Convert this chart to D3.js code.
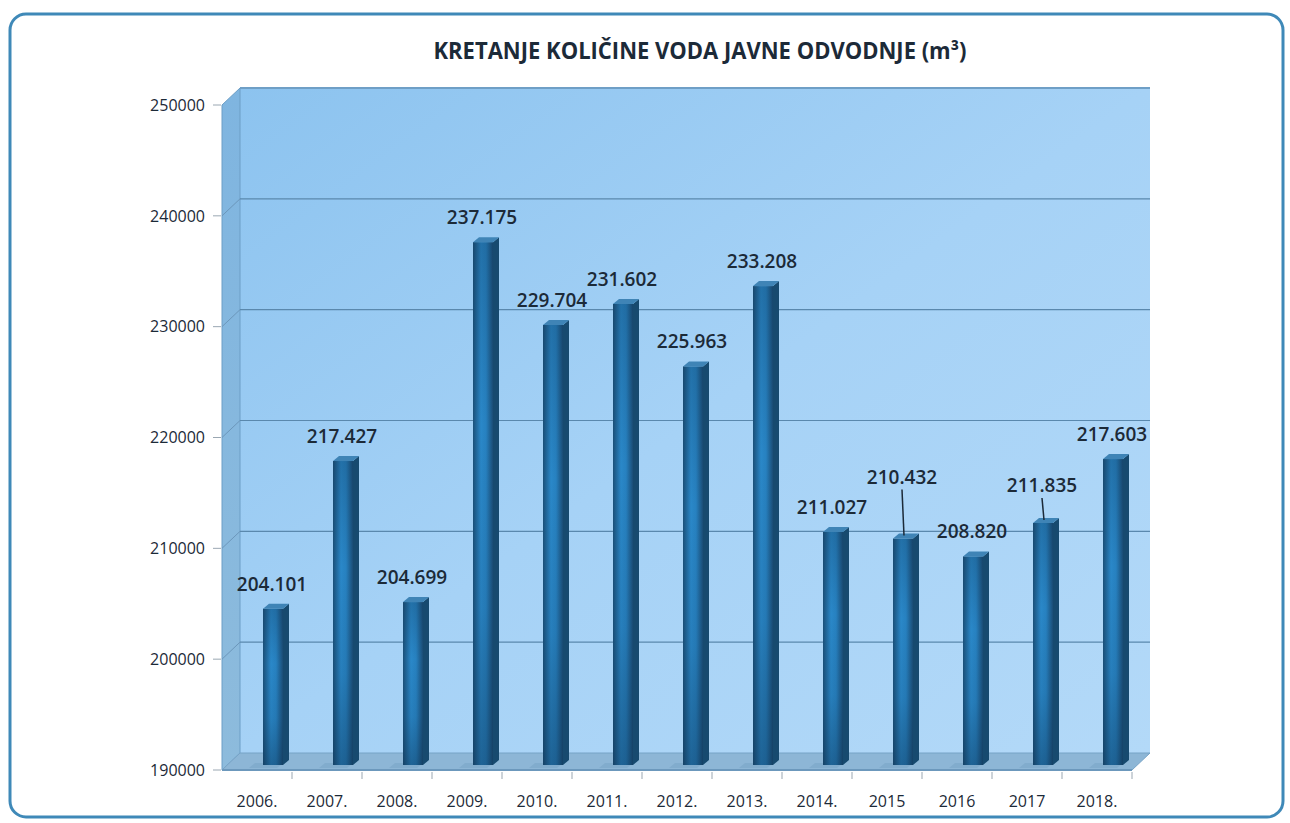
<!DOCTYPE html>
<html lang="hr">
<head>
<meta charset="UTF-8">
<title>Kretanje količine voda javne odvodnje</title>
<script src="https://d3js.org/d3.v7.min.js"></script>
<style>
  html, body { margin: 0; padding: 0; background: #fff; }
  svg { display: block; }
  text { font-family: "Open Sans", "Noto Sans", "DejaVu Sans", sans-serif; fill: #1c2a38; }
</style>
</head>
<body>
<div id="chart"></div>
<script>
// data
const years = ["2006.", "2007.", "2008.", "2009.", "2010.", "2011.", "2012.", "2013.", "2014.", "2015", "2016", "2017", "2018."];
const volumes = [204101, 217427, 204699, 237175, 229704, 231602, 225963, 233208, 211027, 210432, 208820, 211835, 217603];
const valueLabels = ["204.101", "217.427", "204.699", "237.175", "229.704", "231.602", "225.963", "233.208", "211.027", "210.432", "208.820", "211.835", "217.603"];
const yTicks = [190000, 200000, 210000, 220000, 230000, 240000, 250000];

const width = 1290, height = 823;
const depthX = 18, depthY = -17;   // 3D depth of the wall/floor

// labels that were pulled up with a leader line
const raised = { "2015": 37, "2017": 13 };

const svg = d3.select("#chart").append("svg")
  .attr("width", width).attr("height", height);

const defs = svg.append("defs");

const wallGrad = defs.append("linearGradient").attr("id", "wall")
  .attr("x1", "0").attr("y1", "0").attr("x2", "1").attr("y2", "1");
wallGrad.append("stop").attr("offset", "0").attr("stop-color", "#8cc3ef");
wallGrad.append("stop").attr("offset", "0.5").attr("stop-color", "#a6d2f6");
wallGrad.append("stop").attr("offset", "1").attr("stop-color", "#b3d9f8");

const sideGrad = defs.append("linearGradient").attr("id", "side")
  .attr("x1", "0").attr("y1", "0").attr("x2", "0").attr("y2", "1");
sideGrad.append("stop").attr("offset", "0").attr("stop-color", "#7fb5e0");
sideGrad.append("stop").attr("offset", "1").attr("stop-color", "#8dbbdc");

const barGrad = defs.append("linearGradient").attr("id", "barFront")
  .attr("x1", "0").attr("y1", "0").attr("x2", "1").attr("y2", "0");
barGrad.append("stop").attr("offset", "0").attr("stop-color", "#1b5079");
barGrad.append("stop").attr("offset", "0.4").attr("stop-color", "#2a88c9");
barGrad.append("stop").attr("offset", "0.65").attr("stop-color", "#2781c0");
barGrad.append("stop").attr("offset", "1").attr("stop-color", "#1b4d76");

const shadeGrad = defs.append("linearGradient").attr("id", "barShade")
  .attr("x1", "0").attr("y1", "0").attr("x2", "0").attr("y2", "1");
shadeGrad.append("stop").attr("offset", "0").attr("stop-color", "#0d2d4a").attr("stop-opacity", 0.25);
shadeGrad.append("stop").attr("offset", "0.35").attr("stop-color", "#0d2d4a").attr("stop-opacity", 0);
shadeGrad.append("stop").attr("offset", "0.7").attr("stop-color", "#0d2d4a").attr("stop-opacity", 0.1);
shadeGrad.append("stop").attr("offset", "1").attr("stop-color", "#0d2d4a").attr("stop-opacity", 0.4);

// outer frame
svg.append("rect")
  .attr("x", 10).attr("y", 14).attr("width", 1273).attr("height", 803)
  .attr("rx", 16)
  .attr("fill", "#fff")
  .attr("stroke", "#3f89b8").attr("stroke-width", 3);

// title
svg.append("text")
  .attr("x", 700).attr("y", 59)
  .attr("text-anchor", "middle")
  .attr("textLength", 533).attr("lengthAdjust", "spacingAndGlyphs")
  .style("font-size", "23px").style("font-weight", 700)
  .text("KRETANJE KOLIČINE VODA JAVNE ODVODNJE (m³)");

// scales
const x = d3.scaleBand().domain(years).range([222, 1132]).padding(0);
const y = d3.scaleLinear().domain([190000, 250000]).range([770, 105]);

const x0 = x.range()[0], x1 = x.range()[1];
const yBase = y(190000), yTop = y(250000);

// back wall
svg.append("rect")
  .attr("x", x0 + depthX).attr("y", yTop + depthY)
  .attr("width", x1 - x0).attr("height", yBase - yTop)
  .attr("fill", "url(#wall)");
svg.append("line")
  .attr("x1", x0 + depthX).attr("x2", x1 + depthX)
  .attr("y1", yTop + depthY).attr("y2", yTop + depthY)
  .attr("stroke", "#6f9fc6").attr("stroke-width", 2);

// side wall
svg.append("polygon")
  .attr("points", [[x0, yTop], [x0 + depthX, yTop + depthY], [x0 + depthX, yBase + depthY], [x0, yBase]].join(" "))
  .attr("fill", "url(#side)")
  .attr("stroke", "#6c9ec6").attr("stroke-width", 1);

// gridlines on the back and side wall
const grid = svg.append("g");
grid.selectAll("line.back")
  .data(yTicks.filter(t => t > 190000 && t < 250000))
  .join("line").attr("class", "back")
  .attr("x1", x0 + depthX).attr("x2", x1 + depthX)
  .attr("y1", d => y(d) + depthY).attr("y2", d => y(d) + depthY)
  .attr("stroke", "#5a88ad").attr("stroke-width", 1.2);
grid.selectAll("line.side")
  .data(yTicks.filter(t => t > 190000 && t < 250000))
  .join("line").attr("class", "side")
  .attr("x1", x0).attr("x2", x0 + depthX)
  .attr("y1", d => y(d)).attr("y2", d => y(d) + depthY)
  .attr("stroke", "#6c97bb").attr("stroke-width", 1);

// floor
svg.append("polygon")
  .attr("points", [[x0, yBase], [x0 + depthX, yBase + depthY], [x1 + depthX, yBase + depthY], [x1, yBase]].join(" "))
  .attr("fill", "#8db6d6")
  .attr("stroke", "#77a3c6").attr("stroke-width", 1);
svg.append("line")
  .attr("x1", x0).attr("x2", x1).attr("y1", yBase).attr("y2", yBase)
  .attr("stroke", "#6c98bc").attr("stroke-width", 2);

// y axis ticks and labels
const yAxis = svg.append("g");
yAxis.selectAll("line")
  .data(yTicks).join("line")
  .attr("x1", 213).attr("x2", 221)
  .attr("y1", d => y(d)).attr("y2", d => y(d))
  .attr("stroke", "#9aa7b2");
yAxis.selectAll("text")
  .data(yTicks).join("text")
  .attr("x", 205).attr("y", d => y(d))
  .attr("dy", "0.36em")
  .attr("text-anchor", "end")
  .style("font-size", "16px").style("font-weight", 500)
  .text(d => d);

// x axis ticks (category boundaries) and labels
const xAxis = svg.append("g");
xAxis.selectAll("line")
  .data(years).join("line")
  .attr("x1", d => x(d) + x.bandwidth()).attr("x2", d => x(d) + x.bandwidth())
  .attr("y1", yBase + 2).attr("y2", yBase + 9)
  .attr("stroke", "#9aa7b2");
xAxis.selectAll("text")
  .data(years).join("text")
  .attr("x", d => x(d) + x.bandwidth() / 2)
  .attr("y", 807)
  .attr("text-anchor", "middle")
  .style("font-size", "16px").style("font-weight", 500)
  .text(d => d);

// bars (3D columns)
const rows = years.map((yr, i) => ({ year: yr, value: volumes[i], label: valueLabels[i] }));
const barOff = x.bandwidth() / 2 + 6, barW = 20, bdx = 6, bdy = -5;

const bars = svg.append("g").selectAll("g")
  .data(rows).join("g");

// floor shadow
bars.append("polygon")
  .attr("points", d => {
    const bx = x(d.year) + barOff;
    return [[bx - 14, yBase - 2], [bx - 8, yBase - 7], [bx + barW, yBase - 7], [bx + barW - 6, yBase - 2]].join(" ");
  })
  .attr("fill", "#7aa5c6").attr("opacity", 0.6);

bars.append("polygon")
  .attr("points", d => {
    const bx = x(d.year) + barOff, t = y(d.value) + bdy;
    return [[bx + barW, t], [bx + barW + bdx, t + bdy], [bx + barW + bdx, yBase + 2 * bdy], [bx + barW, yBase + bdy]].join(" ");
  })
  .attr("fill", "#174a6f");

bars.append("rect")
  .attr("x", d => x(d.year) + barOff)
  .attr("y", d => y(d.value) + bdy)
  .attr("width", barW)
  .attr("height", d => yBase - y(d.value))
  .attr("fill", "url(#barFront)");
bars.append("rect")
  .attr("x", d => x(d.year) + barOff)
  .attr("y", d => y(d.value) + bdy)
  .attr("width", barW)
  .attr("height", d => yBase - y(d.value))
  .attr("fill", "url(#barShade)");

bars.append("polygon")
  .attr("points", d => {
    const bx = x(d.year) + barOff, t = y(d.value) + bdy;
    return [[bx, t], [bx + bdx, t + bdy], [bx + barW + bdx, t + bdy], [bx + barW, t]].join(" ");
  })
  .attr("fill", "#3f84b6");

// value labels
const labelX = d => x(d.year) + barOff + (barW + bdx) / 2 - 4;
const labelY = d => y(d.value) + 2 * bdy - 13 - (raised[d.year] || 0);

bars.filter(d => raised[d.year])
  .append("line")
  .attr("x1", d => labelX(d)).attr("y1", d => labelY(d) + 6)
  .attr("x2", d => labelX(d) + 2).attr("y2", d => y(d.value) + 2 * bdy + 2)
  .attr("stroke", "#1c2a38").attr("stroke-width", 1.5);

bars.append("text")
  .attr("x", labelX)
  .attr("y", labelY)
  .attr("text-anchor", "middle")
  .style("font-size", "19px").style("font-weight", 600)
  .text(d => d.label);
</script>
</body>
</html>
